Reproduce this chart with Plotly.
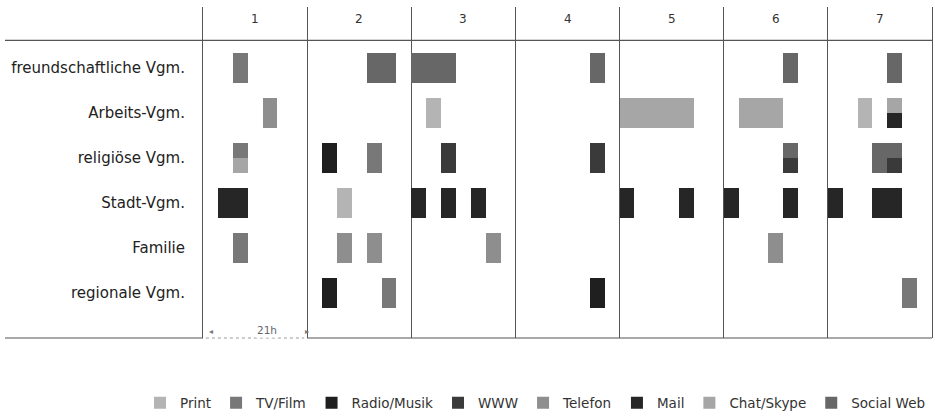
import plotly.graph_objects as go

# ---- data ----
rows = ["freundschaftliche Vgm.", "Arbeits-Vgm.", "religiöse Vgm.", "Stadt-Vgm.", "Familie", "regionale Vgm."]
days = ["1", "2", "3", "4", "5", "6", "7"]
media = ["Print", "TV/Film", "Radio/Musik", "WWW", "Telefon", "Mail", "Chat/Skype", "Social Web"]
media_colors = ["#b4b4b4", "#787878", "#1f1f1f", "#3a3a3a", "#8e8e8e", "#262626", "#a6a6a6", "#676767"]
hours_per_day = 21
hours_per_slot = 3

# one entry per block: day (1-7), row index, first 3h-slot, number of slots, medium, part of the row band
block_day    = [1, 1, 1, 1, 1, 1,
                2, 2, 2, 2, 2, 2, 2, 2,
                3, 3, 3, 3, 3, 3, 3,
                4, 4, 4,
                5, 5, 5,
                6, 6, 6, 6, 6, 6, 6,
                7, 7, 7, 7, 7, 7, 7, 7, 7, 7]
block_row    = [0, 1, 2, 2, 3, 4,
                0, 2, 2, 3, 4, 4, 5, 5,
                0, 1, 2, 3, 3, 3, 4,
                0, 2, 5,
                1, 3, 3,
                0, 1, 2, 2, 3, 3, 4,
                0, 1, 1, 1, 2, 2, 2, 3, 3, 5]
block_start  = [2, 4, 2, 2, 1, 2,
                4, 1, 4, 2, 2, 4, 1, 5,
                0, 1, 2, 0, 2, 4, 5,
                5, 5, 5,
                0, 0, 4,
                4, 1, 4, 4, 0, 4, 3,
                4, 2, 4, 4, 3, 4, 4, 0, 3, 5]
block_len    = [1, 1, 1, 1, 2, 1,
                2, 1, 1, 1, 1, 1, 1, 1,
                3, 1, 1, 1, 1, 1, 1,
                1, 1, 1,
                5, 1, 1,
                1, 3, 1, 1, 1, 1, 1,
                1, 1, 1, 1, 1, 1, 1, 1, 2, 1]
block_medium = ["TV/Film", "Telefon", "TV/Film", "Chat/Skype", "Mail", "TV/Film",
                "Social Web", "Radio/Musik", "TV/Film", "Print", "Telefon", "Telefon", "Radio/Musik", "TV/Film",
                "Social Web", "Print", "WWW", "Mail", "Mail", "Mail", "Telefon",
                "Social Web", "WWW", "Radio/Musik",
                "Chat/Skype", "Mail", "Mail",
                "Social Web", "Chat/Skype", "Social Web", "WWW", "Mail", "Mail", "Telefon",
                "Social Web", "Print", "Chat/Skype", "Mail", "Social Web", "Social Web", "WWW", "Mail", "Mail", "TV/Film"]
block_part   = ["full", "full", "top", "bottom", "full", "full",
                "full", "full", "full", "full", "full", "full", "full", "full",
                "full", "full", "full", "full", "full", "full", "full",
                "full", "full", "full",
                "full", "full", "full",
                "full", "full", "top", "bottom", "full", "full", "full",
                "full", "full", "top", "bottom", "full", "top", "bottom", "full", "full", "full"]

# ---- figure ----
FONT = "DejaVu Sans"
band = 0.667            # block height in row units
y_top, y_bottom = -1.36, 6.0
n_days = len(days)
total_h = n_days * hours_per_day

fig = go.Figure()
for m, col in zip(media, media_colors):
    xs, bases, ys, ws = [], [], [], []
    for d, r, s, n, med, part in zip(block_day, block_row, block_start, block_len, block_medium, block_part):
        if med != m:
            continue
        bases.append((d - 1) * hours_per_day + s * hours_per_slot)
        xs.append(n * hours_per_slot)
        if part == "full":
            ys.append(r); ws.append(band)
        elif part == "top":
            ys.append(r - band / 4); ws.append(band / 2)
        else:
            ys.append(r + band / 4); ws.append(band / 2)
    fig.add_trace(go.Bar(
        x=xs, base=bases, y=ys, width=ws, orientation="h", name=m,
        marker=dict(color=col, line=dict(width=0)), hoverinfo="skip",
    ))

# day headers
for i, dname in enumerate(days):
    fig.add_annotation(x=i * hours_per_day + hours_per_day / 2, y=-1.09, text=dname,
                       showarrow=False, font=dict(family=FONT, size=12, color="#333"))

# horizontal rules (paper coords)
line_col = "#555"
left_ext = -(203 - 5) / 729
y_header = (y_bottom - (-0.62)) / (y_bottom - y_top)
fig.add_shape(type="line", xref="paper", yref="paper", x0=left_ext, x1=1, y0=y_header, y1=y_header,
              line=dict(color=line_col, width=1.2))
one_day = hours_per_day / total_h
fig.add_shape(type="line", xref="paper", yref="paper", x0=left_ext, x1=0, y0=0, y1=0,
              line=dict(color=line_col, width=1.2))
fig.add_shape(type="line", xref="paper", yref="paper", x0=one_day, x1=1, y0=0, y1=0,
              line=dict(color=line_col, width=1.2))
fig.add_shape(type="line", xref="paper", yref="paper", x0=0.004, x1=one_day - 0.004, y0=0, y1=0,
              line=dict(color="#999", width=1, dash="dot"))
fig.add_annotation(xref="paper", yref="paper", x=one_day / 2, y=0, text="21h", showarrow=False,
                   bgcolor="white", font=dict(family=FONT, size=10.5, color="#666"), borderpad=1)
for xa, sym in [(0.006, "◂"), (one_day - 0.006, "▸")]:
    fig.add_annotation(xref="paper", yref="paper", x=xa, y=0, text=sym, showarrow=False,
                       font=dict(family=FONT, size=8, color="#777"))

fig.update_layout(
    width=935, height=419,
    margin=dict(l=203, r=3, t=7, b=81, autoexpand=False),
    paper_bgcolor="white", plot_bgcolor="white",
    barmode="overlay", bargap=0,
    font=dict(family=FONT, size=15, color="#222"),
    showlegend=True,
    legend=dict(orientation="h", xref="paper", yref="paper",
                x=-0.0864, xanchor="left", y=-0.196, yanchor="middle",
                font=dict(family=FONT, size=13.5, color="#333"), traceorder="normal",
                itemwidth=30),
    xaxis=dict(range=[0, total_h], tickvals=[i * hours_per_day for i in range(1, n_days)],
               showticklabels=False, showgrid=True, gridcolor=line_col, gridwidth=1,
               zeroline=False, showline=False, ticks=""),
    yaxis=dict(range=[y_bottom, y_top], tickvals=list(range(len(rows))), ticktext=rows,
               showgrid=False, zeroline=False, showline=True, mirror=True, linecolor=line_col,
               linewidth=1, ticks="outside", ticklen=14, tickcolor="rgba(0,0,0,0)",
               automargin=False,
               tickfont=dict(family=FONT, size=15, color="#222")),
)

fig.write_html("out.html", config={"displayModeBar": False},
               post_script="document.body.style.margin='0';document.body.style.overflow='hidden';")
